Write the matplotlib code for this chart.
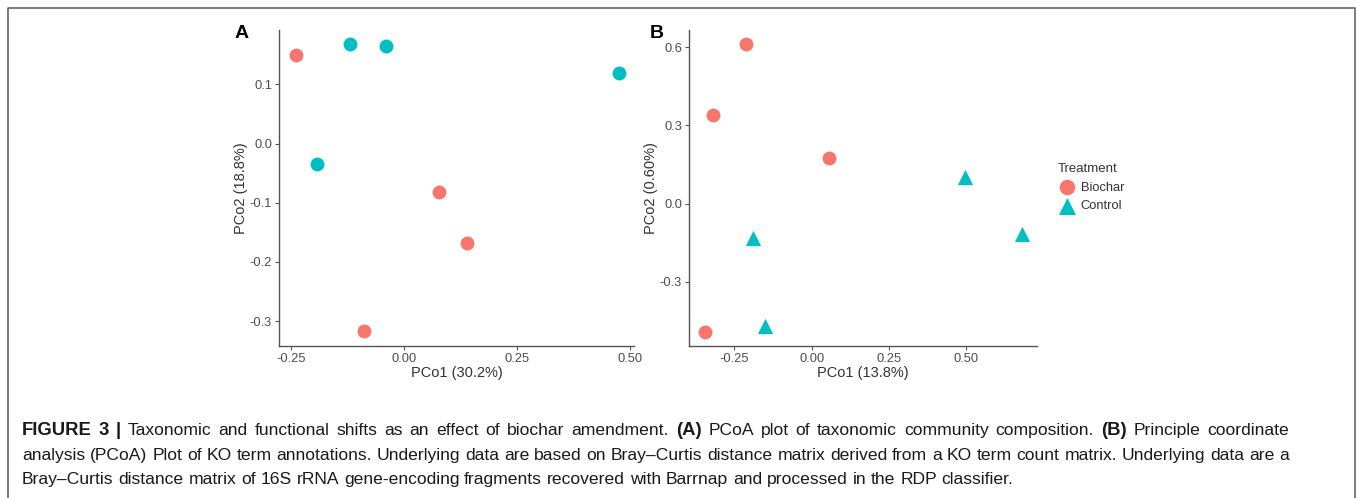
import matplotlib.pyplot as plt
from matplotlib.lines import Line2D

plt.rcParams['font.family'] = ['Liberation Sans', 'DejaVu Sans']

# panel A: taxonomic PCoA
a_x = [-0.239, 0.078, 0.139, -0.089, -0.119, -0.039, 0.476, -0.193]
a_y = [0.150, -0.082, -0.168, -0.317, 0.169, 0.165, 0.120, -0.034]
a_grp = ["Biochar", "Biochar", "Biochar", "Biochar", "Control", "Control", "Control", "Control"]

# panel B: KO term PCoA
b_x = [-0.214, -0.321, 0.055, -0.344, -0.190, -0.150, 0.495, 0.678]
b_y = [0.613, 0.340, 0.176, -0.491, -0.133, -0.469, 0.101, -0.117]
b_grp = ["Biochar", "Biochar", "Biochar", "Biochar", "Control", "Control", "Control", "Control"]

colors = {"Biochar": "#F8766D", "Control": "#00BFC4"}
markers_b = {"Biochar": "o", "Control": "^"}

W, H = 1357, 498
fig = plt.figure(figsize=(W / 100, H / 100), dpi=100)

def px_axes(l, r, t, b):
    return fig.add_axes([l / W, 1 - b / H, (r - l) / W, (b - t) / H])

def style(ax):
    for s in ["top", "right"]:
        ax.spines[s].set_visible(False)
    for s in ["left", "bottom"]:
        ax.spines[s].set_color("#555555")
        ax.spines[s].set_linewidth(1.0)
    ax.tick_params(colors="#555555", labelcolor="#4D4D4D", labelsize=9.3, length=3, pad=2)

ax1 = px_axes(279, 634, 30, 346)
for g in ["Biochar", "Control"]:
    xs = [x for x, k in zip(a_x, a_grp) if k == g]
    ys = [y for y, k in zip(a_y, a_grp) if k == g]
    ax1.scatter(xs, ys, s=100, color=colors[g], marker="o", linewidths=0)
ax1.set_xlim(-0.277, 0.509)
ax1.set_ylim(-0.342, 0.192)
ax1.set_xticks([-0.25, 0.0, 0.25, 0.5])
ax1.set_xticklabels(["-0.25", "0.00", "0.25", "0.50"])
ax1.set_yticks([0.1, 0.0, -0.1, -0.2, -0.3])
ax1.set_yticklabels(["0.1", "0.0", "-0.1", "-0.2", "-0.3"])
ax1.set_xlabel("PCo1 (30.2%)", fontsize=10.5, color="#333333", labelpad=1)
ax1.set_ylabel("PCo2 (18.8%)", fontsize=10.5, color="#333333", labelpad=1)
style(ax1)

ax2 = px_axes(689, 1037, 30, 346)
handles = []
for g in ["Biochar", "Control"]:
    xs = [x for x, k in zip(b_x, b_grp) if k == g]
    ys = [y for y, k in zip(b_y, b_grp) if k == g]
    h = ax2.scatter(xs, ys, s=120 if g == "Control" else 100, color=colors[g],
                    marker=markers_b[g], linewidths=0, label=g)
    handles.append(h)
ax2.set_xlim(-0.397, 0.728)
ax2.set_ylim(-0.546, 0.666)
ax2.set_xticks([-0.25, 0.0, 0.25, 0.5])
ax2.set_xticklabels(["-0.25", "0.00", "0.25", "0.50"])
ax2.set_yticks([0.6, 0.3, 0.0, -0.3])
ax2.set_yticklabels(["0.6", "0.3", "0.0", "-0.3"])
ax2.set_xlabel("PCo1 (13.8%)", fontsize=10.5, color="#333333", labelpad=1)
ax2.set_ylabel("PCo2 (0.60%)", fontsize=10.5, color="#333333", labelpad=1)
style(ax2)

leg = fig.legend(handles=handles, labels=["Biochar", "Control"], title="Treatment",
                 loc="upper left", bbox_to_anchor=(1049 / W, 1 - 154 / H),
                 frameon=False, fontsize=9.3, title_fontsize=9.5, alignment="left",
                 handletextpad=0.35, labelspacing=0.5, borderpad=0.2, handlelength=1.4,
                 markerscale=1.12)
for t in leg.get_texts():
    t.set_color("#333333")
leg.get_title().set_color("#333333")

fig.text(235 / W, 1 - 34 / H, "A", fontsize=14, fontweight="bold", va="center", ha="left")
fig.text(650 / W, 1 - 34 / H, "B", fontsize=14, fontweight="bold", va="center", ha="left")

# outer frame (top, left, right)
fig.add_artist(Line2D([7.5 / W, 7.5 / W, 1354.5 / W, 1354.5 / W],
                      [0, 1 - 8 / H, 1 - 8 / H, 0], transform=fig.transFigure,
                      color="#666666", linewidth=1.2))

# caption: justified lines with mixed bold / regular words
cap_lines = [
    [("FIGURE 3 |", "bold"), ("Taxonomic and functional shifts as an effect of biochar amendment.", "normal"),
     ("(A)", "bold"), ("PCoA plot of taxonomic community composition.", "normal"),
     ("(B)", "bold"), ("Principle coordinate", "normal")],
    [("analysis (PCoA) Plot of KO term annotations. Underlying data are based on Bray\u2013Curtis distance matrix "
      "derived from a KO term count matrix. Underlying data are a", "normal")],
    [("Bray\u2013Curtis distance matrix of 16S rRNA gene-encoding fragments recovered with Barrnap "
      "and processed in the RDP classifier.", "normal")],
]
cap_base = [435, 460, 484]
cap_justify = [True, True, False]
cap_left, cap_right = 22, 1289
cap_size = {"normal": 12.6, "bold": 13.3}

fig.canvas.draw()
renderer = fig.canvas.get_renderer()

def word_width(word, wt):
    t = fig.text(0, 0, word, fontsize=cap_size[wt], fontweight=wt)
    w = t.get_window_extent(renderer).width
    t.remove()
    return w

space_w = word_width("a a", "normal") - word_width("aa", "normal")
for segs, yy, just in zip(cap_lines, cap_base, cap_justify):
    words = [(w, wt) for txt, wt in segs for w in txt.split(" ")]
    widths = [word_width(w, wt) for w, wt in words]
    if just:
        gap = (cap_right - cap_left - sum(widths)) / (len(words) - 1)
    else:
        gap = space_w
    x = cap_left
    for (w, wt), wd in zip(words, widths):
        fig.text(x / W, 1 - yy / H, w, fontsize=cap_size[wt], fontweight=wt,
                 color="#1a1a1a", va="baseline", ha="left")
        x += wd + gap

fig.savefig("out.png", dpi=100)
